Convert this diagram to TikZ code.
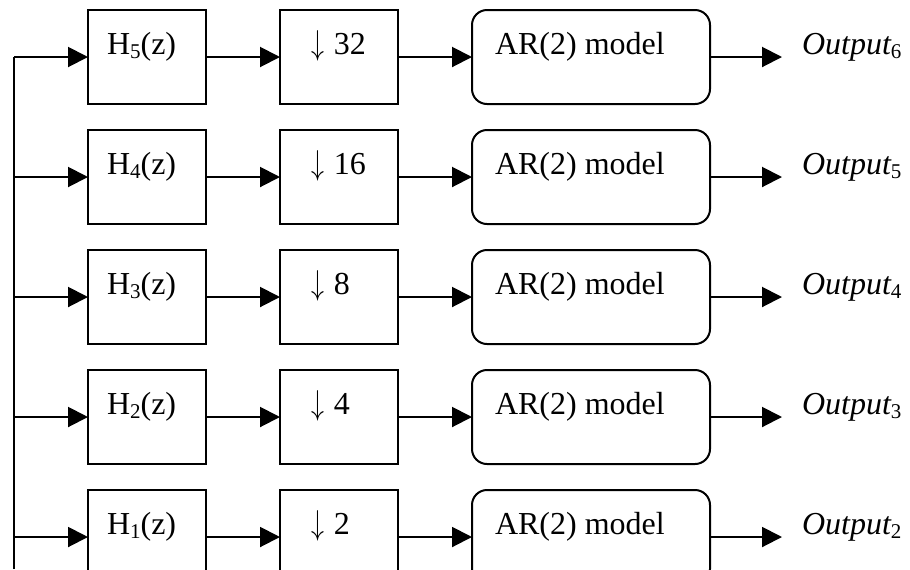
\documentclass[tikz,border=0pt]{standalone}
\usepackage{fontspec}
\setmainfont{Liberation Serif}
\usetikzlibrary{arrows.meta}
\newcommand\sbs[1]{\raisebox{-2pt}{\fontsize{10.5}{12}\selectfont #1}}
\newcommand\dnarrow{\hspace{1pt}\scalebox{0.75}[1]{$\downarrow$}\hspace{5pt}}
\tikzset{
  blk/.style={draw, line width=1pt, minimum width=59pt, minimum height=47pt, inner sep=0pt, outer sep=0pt},
  arbox/.style={blk, rounded corners=7.5pt, minimum width=119pt},
  txt/.style={inner sep=0pt, outer sep=0pt, anchor=base west, font=\fontsize{16}{19}\selectfont},
  arr/.style={line width=1pt, -{Triangle[length=10pt,width=10pt]}},
  wire/.style={line width=1pt}
}
\begin{document}
\begin{tikzpicture}[x=0.5pt,y=-0.5pt]
\useasboundingbox (0,0) rectangle (910,569);
\clip (0,0) rectangle (910,569);
\foreach \i/\h/\d/\o in {0/5/32/6,1/4/16/5,2/3/8/4,3/2/4/3,4/1/2/2}{
  \pgfmathsetmacro{\ty}{9+120*\i}
  \node[blk] (h\i) at (147,\ty+48) {};
  \node[txt] (ht\i) at (107,\ty+45) {H\sbs{\h}(z)};
  \node[blk] (d\i) at (339,\ty+48) {};
  \node[txt] (dt\i) at (309,\ty+45) {\dnarrow\d};
  \node[arbox] (ar\i) at (591,\ty+48) {};
  \node[txt] (art\i) at (495,\ty+45) {AR(2) model};
  \coordinate (in\i) at (14,\ty+48);
  \coordinate (out\i) at (782,\ty+48);
  \node[txt] (ot\i) at (802,\ty+45) {\itshape Output\sbs{\upshape\o}};
  \draw[arr] (in\i) -- (h\i.west);
  \draw[arr] (h\i.east) -- (d\i.west);
  \draw[arr] (d\i.east) -- (ar\i.west);
  \draw[arr] (ar\i.east) -- (out\i);
}
\coordinate (bot) at (14,569);
\draw[wire] (bot) -- (in0);
\end{tikzpicture}
\end{document}
